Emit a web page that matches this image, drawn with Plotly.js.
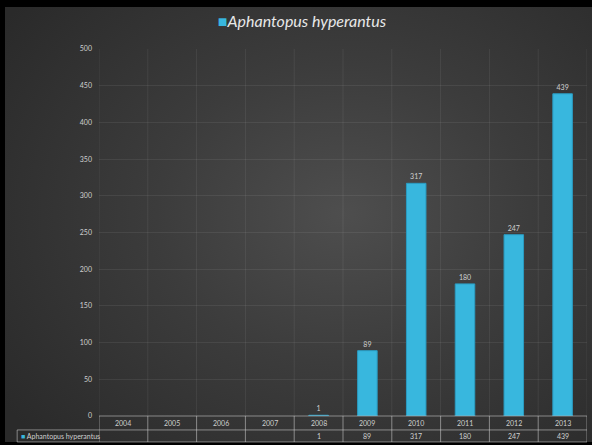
<!DOCTYPE html>
<html>
<head>
<meta charset="utf-8">
<script src="https://cdn.plot.ly/plotly-3.0.1.min.js"></script>
<style>
  html, body { margin: 0; padding: 0; background: #000; }
  #chart {
    width: 592px; height: 445px;
    background: radial-gradient(ellipse 70% 75% at 58% 48%, #4e4e4e 0%, #3c3c3c 45%, #2a2a2a 100%);
    box-shadow: inset 5px 7px 0 0 #000, inset 0 -3px 0 0 #000;
  }
</style>
</head>
<body>
<div id="chart"></div>
<script>
const seriesName = "Aphantopus hyperantus";
const years = ["2004","2005","2006","2007","2008","2009","2010","2011","2012","2013"];
const counts = [null, null, null, null, 1, 89, 317, 180, 247, 439];
const yTicks = [0, 50, 100, 150, 200, 250, 300, 350, 400, 450, 500];

const barColor = "#38b7de";
const textColor = "#cfcfcf";
const tableLine = "rgba(210,210,210,0.55)";
const gridColor = "rgba(255,255,255,0.07)";
const FONT = "Lato, 'Open Sans', sans-serif";

// Paper-y positions of table rows (plot bottom = 0)
const row1Y = -0.019, row2Y = -0.0545;
const line2Y = -0.038, line3Y = -0.0708;
const keyLeft = -0.1677;

const xIdx = years.map((_, i) => i);

const shapes = [];
for (let i = 0; i <= years.length; i++) {
  const xv = i - 0.5;
  shapes.push({type: "line", xref: "x", yref: "paper", x0: xv, x1: xv, y0: 0, y1: 1,
               line: {color: gridColor, width: 1}});
  shapes.push({type: "line", xref: "x", yref: "paper", x0: xv, x1: xv, y0: line3Y, y1: 0,
               line: {color: tableLine, width: 1}});
}
shapes.push({type: "line", xref: "x", yref: "paper", x0: -0.5, x1: years.length - 0.5, y0: 0, y1: 0,
             line: {color: tableLine, width: 1}});
[line2Y, line3Y].forEach(yy => {
  shapes.push({type: "line", xref: "paper", yref: "paper", x0: keyLeft, x1: 1, y0: yy, y1: yy,
               line: {color: tableLine, width: 1}});
});
shapes.push({type: "line", xref: "paper", yref: "paper", x0: keyLeft, x1: keyLeft, y0: line3Y, y1: line2Y,
             line: {color: tableLine, width: 1}});

const annotations = [];
years.forEach((yr, i) => {
  annotations.push({x: i, y: row1Y, xref: "x", yref: "paper", text: yr, showarrow: false,
                    font: {family: FONT, size: 7, color: textColor}, yanchor: "middle"});
  if (counts[i] !== null) {
    annotations.push({x: i, y: row2Y, xref: "x", yref: "paper", text: String(counts[i]), showarrow: false,
                      font: {family: FONT, size: 7, color: textColor}, yanchor: "middle"});
  }
});
annotations.push({x: keyLeft + 0.004, y: row2Y, xref: "paper", yref: "paper", xanchor: "left", yanchor: "middle",
                  text: '<span style="color:' + barColor + '">■</span> ' + seriesName, showarrow: false,
                  font: {family: FONT, size: 7, color: textColor}});

const trace = {
  type: "bar",
  name: seriesName,
  x: xIdx,
  y: counts,
  width: 0.4,
  marker: {color: barColor, line: {color: "#2a9cc2", width: 1}},
  text: counts.map(v => v === null ? "" : String(v)),
  textposition: "outside",
  cliponaxis: false,
  textfont: {family: FONT, size: 7, color: textColor},
  hoverinfo: "x+y"
};

const layout = {
  width: 592, height: 445,
  margin: {l: 99, r: 5, t: 49, b: 29, pad: 0},
  paper_bgcolor: "rgba(0,0,0,0)",
  plot_bgcolor: "rgba(0,0,0,0)",
  showlegend: false,
  title: {
    text: '<span style="color:' + barColor + ';font-style:normal">■</span><i>' + seriesName + '</i>',
    x: 302 / 592, xanchor: "center", xref: "container",
    y: 21 / 445, yanchor: "middle", yref: "container",
    font: {family: FONT, size: 16, color: "#e8e8e8"}
  },
  xaxis: {
    range: [-0.5, years.length - 0.5],
    showticklabels: false, showgrid: false, zeroline: false, showline: false, ticks: "",
    fixedrange: true
  },
  yaxis: {
    range: [0, 500], tickvals: yTicks, ticktext: yTicks.map(String),
    showgrid: true, gridcolor: gridColor, zeroline: false, showline: false, ticks: "",
    tickfont: {family: FONT, size: 7, color: textColor},
    ticklabelstandoff: 6,
    fixedrange: true
  },
  bargap: 0.6,
  shapes: shapes,
  annotations: annotations
};
layout.title.y = 1 - 21 / 445;

Plotly.newPlot("chart", [trace], layout, {displayModeBar: false, staticPlot: true});
</script>
</body>
</html>
